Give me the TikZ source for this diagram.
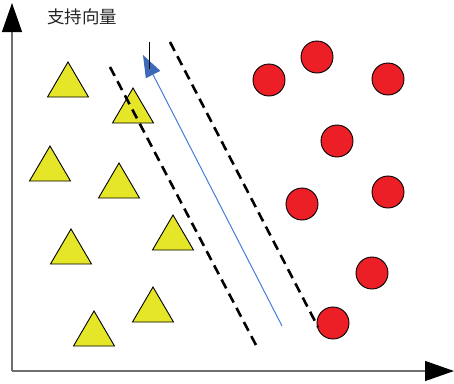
\documentclass[tikz,border=0pt]{standalone}
\usepackage{fontspec}
\newfontfamily\cjk{Noto Sans CJK SC}
\usetikzlibrary{arrows.meta}
\definecolor{triyellow}{RGB}{230,230,40}
\definecolor{dotred}{RGB}{236,30,38}
\definecolor{lineblue}{RGB}{70,125,215}
\definecolor{axisgray}{RGB}{110,110,110}
\tikzset{
  tri/.style={fill=triyellow,draw=black,line width=0.9pt,line join=miter},
  dot/.style={circle,fill=dotred,draw=black,line width=0.9pt,minimum size=32pt,inner sep=0pt},
  margin/.style={dash pattern=on 10pt off 6pt,line width=2.6pt,black},
  axis/.style={axisgray,line width=1.3pt,-{Triangle[length=29pt,width=20pt,black]}},
  normal/.style={lineblue,line width=1pt,-{Triangle[length=22pt,width=16pt,fill=lineblue!85!black,color=lineblue!85!black]}},
  label/.style={font=\cjk\fontsize{17.5pt}{18pt}\selectfont,text=black!85,inner sep=0pt}
}
\begin{document}
\begin{tikzpicture}[x=1pt,y=-1pt]
\useasboundingbox (0,0) rectangle (454,383);
% axes
\coordinate (O) at (12,371);
\coordinate (Ytip) at (12,3);
\coordinate (Xtip) at (454,371);
\draw[axis] (O) -- (Ytip);
\draw[axis] (O) -- (Xtip);
% title
\node[label] (title) at (82,17) {支持向量};
% triangles (apex points)
\foreach \ax/\ay in {68/62,133/88,50/146,119/163,71/229,173/215,153/287,94/311}{
  \filldraw[tri] (\ax,\ay) -- ++(-20.5,35) -- ++(41,0) -- cycle;
}
% circles
\node[dot] (c1) at (269,80) {};
\node[dot] (c2) at (317,57) {};
\node[dot] (c3) at (388,79) {};
\node[dot] (c4) at (337,141) {};
\node[dot] (c5) at (302,204) {};
\node[dot] (c6) at (388,192) {};
\node[dot] (c7) at (372,273) {};
\node[dot] (c8) at (333,323) {};
% margins
\coordinate (m1a) at (110,67);
\coordinate (m1b) at (257,347);
\coordinate (m2a) at (170,42);
\coordinate (m2b) at (318,327);
\draw[margin] (m1a) -- (m1b);
\draw[margin] (m2a) -- (m2b);
% normal vector
\coordinate (na) at (282,326);
\coordinate (nb) at (143,55);
\draw[normal] (na) -- (nb);
\coordinate (ta) at (149,42);
\coordinate (tb) at (149,69);
\draw[black,line width=0.8pt] (ta) -- (tb);
\end{tikzpicture}
\end{document}
